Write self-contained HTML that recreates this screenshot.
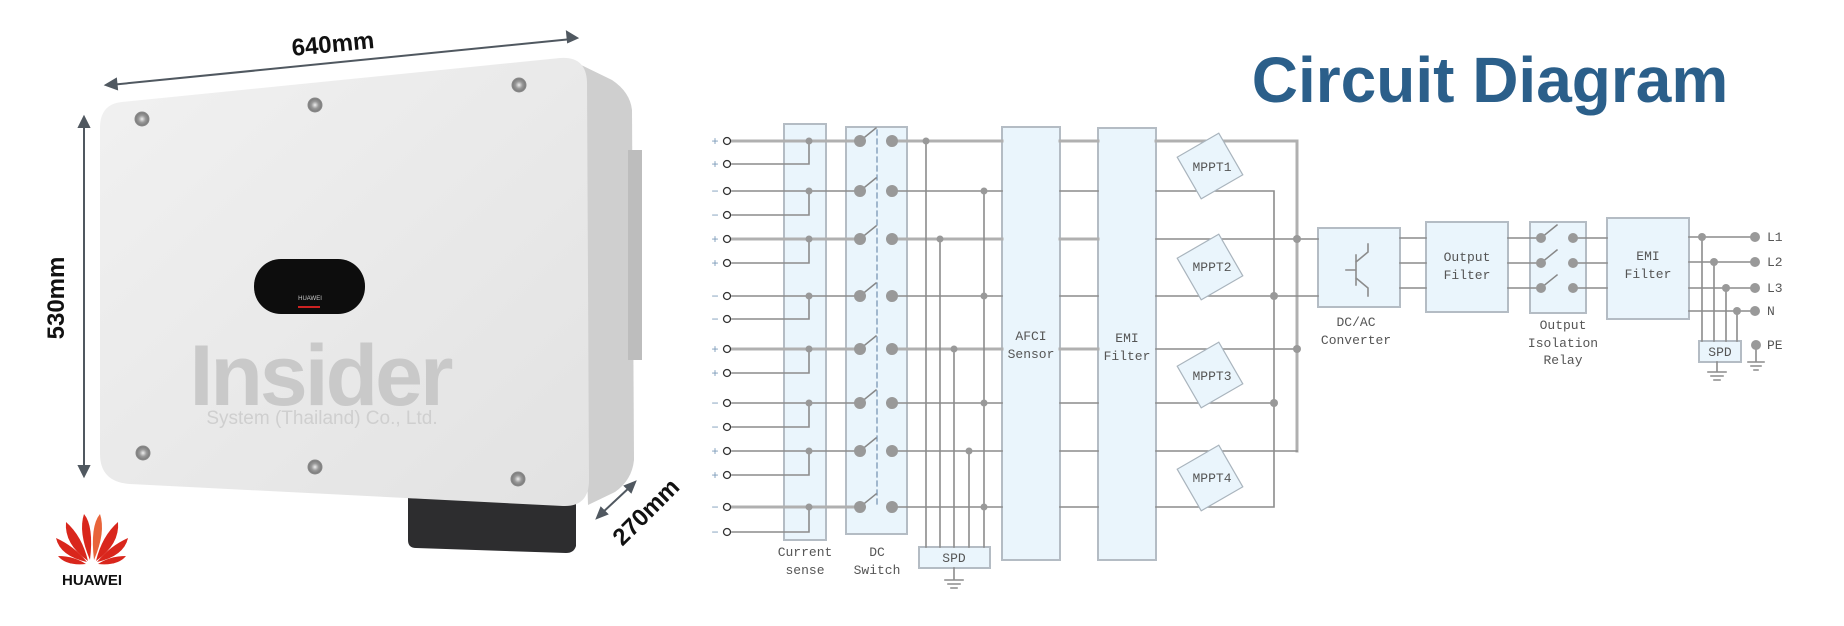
<!DOCTYPE html>
<html><head><meta charset="utf-8"><style>
html,body{margin:0;padding:0;background:#fff;}
svg{display:block;}
.m{font-family:"Liberation Mono",monospace;font-size:13px;fill:#555;}
</style></head><body>
<svg width="1844" height="626" viewBox="0 0 1844 626" xmlns="http://www.w3.org/2000/svg">
<defs>
<linearGradient id="pg" x1="0" y1="0" x2="1" y2="1"><stop offset="0" stop-color="#f1f1f1"/><stop offset="1" stop-color="#e2e2e2"/></linearGradient>
<radialGradient id="sc"><stop offset="0" stop-color="#eee"/><stop offset=".5" stop-color="#999"/><stop offset="1" stop-color="#777"/></radialGradient>
</defs>
<!-- product -->
<path d="M575 62 L612 80 Q630 92 632 110 L634 460 Q632 480 615 492 L588 505 Z" fill="#cfcfcf"/>
<rect x="628" y="150" width="14" height="210" fill="#bdbdbd"/>
<path d="M408 498 L576 504 L576 546 Q574 553 566 553 L416 548 Q408 548 408 540 Z" fill="#2d2d2f"/>
<path d="M122 102 L560 58 Q586 56 587 82 L589 480 Q589 507 563 506 L130 484 Q100 482 100 454 L100 128 Q100 104 122 102 Z" fill="url(#pg)"/>
<g fill="url(#sc)" stroke="#8a8a8a" stroke-width="1">
<circle cx="142" cy="119" r="7"/><circle cx="315" cy="105" r="7"/><circle cx="519" cy="85" r="7"/>
<circle cx="143" cy="453" r="7"/><circle cx="315" cy="467" r="7"/><circle cx="518" cy="479" r="7"/>
</g>
<rect x="254" y="259" width="111" height="55" rx="27" fill="#0d0d0d"/>
<rect x="298" y="306" width="22" height="2" fill="#c22"/>
<text x="310" y="300" font-family="Liberation Sans,sans-serif" font-size="6" fill="#ccc" text-anchor="middle">HUAWEI</text>
<text x="320" y="405" font-family="Liberation Sans,sans-serif" font-weight="bold" font-size="86" fill="#c9c9c9" text-anchor="middle" letter-spacing="-3">Insider</text>
<text x="322" y="424" font-family="Liberation Sans,sans-serif" font-size="19" fill="#cfcfcf" text-anchor="middle">System (Thailand) Co., Ltd.</text>
<!-- dimension arrows -->
<g stroke="#505860" stroke-width="2" fill="#505860">
<line x1="110" y1="85" x2="572" y2="39"/>
<path d="M106 85 l10 -6 l1 10 z"/><path d="M577 38 l-10 -6 l1 10 z"/>
<line x1="84" y1="122" x2="84" y2="470"/>
<path d="M84 117 l-5 10 h10 z"/><path d="M84 476 l-5 -10 h10 z"/>
<line x1="601" y1="514" x2="631" y2="486"/>
<path d="M597 518 l4 -10 l6 6 z"/><path d="M635 482 l-10 4 l6 6 z"/>
</g>
<text x="333" y="52" font-family="Liberation Sans,sans-serif" font-weight="bold" font-size="24" fill="#111" text-anchor="middle" transform="rotate(-5.5 333 45)">640mm</text>
<text x="72" y="306" font-family="Liberation Sans,sans-serif" font-weight="bold" font-size="24" fill="#111" text-anchor="middle" transform="rotate(-90 64 306)">530mm</text>
<text x="646" y="520" font-family="Liberation Sans,sans-serif" font-weight="bold" font-size="24" fill="#111" text-anchor="middle" transform="rotate(-45 646 512)">270mm</text>
<!-- huawei logo -->
<g fill="#d9261c" transform="translate(92,562)">
<path d="M-2 -2 Q-14 -30 -8 -48 Q2 -36 -2 -2Z"/><path d="M2 -2 Q14 -30 8 -48 Q-2 -36 2 -2Z" fill="#e8643a"/>
<path d="M-4 -1 Q-28 -18 -26 -40 Q-10 -26 -4 -1Z"/><path d="M4 -1 Q28 -18 26 -40 Q10 -26 4 -1Z"/>
<path d="M-5 0 Q-32 -6 -36 -24 Q-18 -16 -5 0Z"/><path d="M5 0 Q32 -6 36 -24 Q18 -16 5 0Z"/>
<path d="M-6 2 Q-26 4 -34 -6 Q-18 -6 -6 2Z"/><path d="M6 2 Q26 4 34 -6 Q18 -6 6 2Z"/>
</g>
<text x="92" y="585" font-family="Liberation Sans,sans-serif" font-weight="bold" font-size="15" fill="#111" text-anchor="middle">HUAWEI</text>
<!-- title -->
<text x="1490" y="102" font-family="Liberation Sans,sans-serif" font-weight="bold" font-size="64" fill="#2b5f8a" text-anchor="middle">Circuit Diagram</text>

<!-- circuit -->
<g fill="#eaf5fc" stroke="#b4bcc4" stroke-width="2">
<rect x="784" y="124" width="42" height="416"/>
<rect x="846" y="127" width="61" height="407"/>
<rect x="1002" y="127" width="58" height="433"/>
<rect x="1098" y="128" width="58" height="432"/>
<rect x="919" y="547" width="71" height="21"/>
<rect x="1318" y="228" width="82" height="79"/>
<rect x="1426" y="222" width="82" height="90"/>
<rect x="1530" y="222" width="56" height="91"/>
<rect x="1607" y="218" width="82" height="101"/>
<rect x="1699" y="341" width="42" height="21"/>
</g>
<g id="wires" fill="none" stroke-linecap="square">
<!-- thick odd rows terminal->switch -->
<g stroke="#b0b0b0" stroke-width="3">
<path d="M732 141H860M732 239H860M732 349H860M732 507H860M892 141H1002M892 239H1002M892 349H1002"/>
<path d="M1060 141H1098M1060 239H1098M1060 349H1098M1156 141H1297V451"/>
</g>
<g stroke="#8c8c8c" stroke-width="1.6">
<path d="M732 191H860M732 296H860M732 403H860M732 451H860"/>
<path d="M732 164H809V141M732 215H809V191M732 263H809V239M732 319H809V296M732 373H809V349M732 427H809V403M732 475H809V451M732 532H809V507"/>
<path d="M892 191H1002M892 296H1002M892 403H1002M892 451H1002M892 507H1002"/>
<path d="M1060 191H1098M1060 296H1098M1060 403H1098M1060 451H1098M1060 507H1098"/>
<path d="M926 141V547M940 239V547M954 349V547M969 451V547M984 191V547"/>
<path d="M1156 191H1274V507H1156M1156 239H1318M1156 296H1318M1156 349H1297M1156 403H1274M1156 451H1297"/>
<path d="M1400 238H1426M1400 263H1426M1400 288H1426M1508 238H1541M1508 263H1541M1508 288H1541M1573 238H1607M1573 263H1607M1573 288H1607"/>
<path d="M1689 237H1755M1689 262H1755M1689 288H1755M1689 311H1755"/>
<path d="M1702 237V341M1714 262V341M1726 288V341M1737 311V341"/>
<path d="M954 568V580M945 580H963M948 584H960M951 588H957"/>
<path d="M1717 362V372M1708 372H1726M1711 376H1723M1714 380H1720"/>
<path d="M1756 345V362M1748 362H1764M1751 366H1761M1754 370H1758"/>
<path d="M1356 255V285M1346 270H1356M1356 262L1368 252V244M1356 278L1368 288V296"/>
</g>
<path d="M877 130V505" stroke="#7a96b4" stroke-width="1.3" stroke-dasharray="5 4"/>
<g stroke="#888" stroke-width="1.5">
<path d="M860 141l16-13M860 191l16-13M860 239l16-13M860 296l16-13M860 349l16-13M860 403l16-13M860 451l16-13M860 507l16-13"/>
<path d="M1541 238l16-13M1541 263l16-13M1541 288l16-13"/>
</g>
</g>
<g fill="#999">
<circle cx="860" cy="141" r="6"/><circle cx="892" cy="141" r="6"/><circle cx="860" cy="191" r="6"/><circle cx="892" cy="191" r="6"/>
<circle cx="860" cy="239" r="6"/><circle cx="892" cy="239" r="6"/><circle cx="860" cy="296" r="6"/><circle cx="892" cy="296" r="6"/>
<circle cx="860" cy="349" r="6"/><circle cx="892" cy="349" r="6"/><circle cx="860" cy="403" r="6"/><circle cx="892" cy="403" r="6"/>
<circle cx="860" cy="451" r="6"/><circle cx="892" cy="451" r="6"/><circle cx="860" cy="507" r="6"/><circle cx="892" cy="507" r="6"/>
<circle cx="809" cy="141" r="3.5"/><circle cx="809" cy="191" r="3.5"/><circle cx="809" cy="239" r="3.5"/><circle cx="809" cy="296" r="3.5"/>
<circle cx="809" cy="349" r="3.5"/><circle cx="809" cy="403" r="3.5"/><circle cx="809" cy="451" r="3.5"/><circle cx="809" cy="507" r="3.5"/>
<circle cx="926" cy="141" r="3.5"/><circle cx="940" cy="239" r="3.5"/><circle cx="954" cy="349" r="3.5"/><circle cx="969" cy="451" r="3.5"/>
<circle cx="984" cy="191" r="3.5"/><circle cx="984" cy="296" r="3.5"/><circle cx="984" cy="403" r="3.5"/><circle cx="984" cy="507" r="3.5"/>
<circle cx="1297" cy="239" r="4"/><circle cx="1297" cy="349" r="4"/><circle cx="1274" cy="296" r="4"/><circle cx="1274" cy="403" r="4"/>
<circle cx="1541" cy="238" r="5"/><circle cx="1573" cy="238" r="5"/><circle cx="1541" cy="263" r="5"/><circle cx="1573" cy="263" r="5"/><circle cx="1541" cy="288" r="5"/><circle cx="1573" cy="288" r="5"/>
<circle cx="1702" cy="237" r="4"/><circle cx="1714" cy="262" r="4"/><circle cx="1726" cy="288" r="4"/><circle cx="1737" cy="311" r="4"/>
<circle cx="1755" cy="237" r="5"/><circle cx="1755" cy="262" r="5"/><circle cx="1755" cy="288" r="5"/><circle cx="1755" cy="311" r="5"/><circle cx="1756" cy="345" r="5"/>
</g>
<g fill="#fff" stroke="#333" stroke-width="1.3">
<circle cx="727" cy="141" r="3.5"/><circle cx="727" cy="164" r="3.5"/><circle cx="727" cy="191" r="3.5"/><circle cx="727" cy="215" r="3.5"/>
<circle cx="727" cy="239" r="3.5"/><circle cx="727" cy="263" r="3.5"/><circle cx="727" cy="296" r="3.5"/><circle cx="727" cy="319" r="3.5"/>
<circle cx="727" cy="349" r="3.5"/><circle cx="727" cy="373" r="3.5"/><circle cx="727" cy="403" r="3.5"/><circle cx="727" cy="427" r="3.5"/>
<circle cx="727" cy="451" r="3.5"/><circle cx="727" cy="475" r="3.5"/><circle cx="727" cy="507" r="3.5"/><circle cx="727" cy="532" r="3.5"/>
</g>
<g font-family="Liberation Sans,sans-serif" font-size="12" fill="#7a9ab8" text-anchor="middle">
<text x="715" y="145">+</text><text x="715" y="168">+</text><text x="715" y="195">−</text><text x="715" y="219">−</text>
<text x="715" y="243">+</text><text x="715" y="267">+</text><text x="715" y="300">−</text><text x="715" y="323">−</text>
<text x="715" y="353">+</text><text x="715" y="377">+</text><text x="715" y="407">−</text><text x="715" y="431">−</text>
<text x="715" y="455">+</text><text x="715" y="479">+</text><text x="715" y="511">−</text><text x="715" y="536">−</text>
</g>
<!-- MPPT diamonds -->
<g fill="#eaf5fc" stroke="#a9b4bd" stroke-width="1.2">
<rect x="-24" y="-24" width="48" height="48" transform="translate(1210,166) rotate(-30)"/>
<rect x="-24" y="-24" width="48" height="48" transform="translate(1210,267) rotate(-30)"/>
<rect x="-24" y="-24" width="48" height="48" transform="translate(1210,375) rotate(-30)"/>
<rect x="-24" y="-24" width="48" height="48" transform="translate(1210,478) rotate(-30)"/>
</g>
<g class="m" text-anchor="middle" font-size="12">
<text x="1212" y="171" class="m">MPPT1</text><text x="1212" y="271" class="m">MPPT2</text>
<text x="1212" y="380" class="m">MPPT3</text><text x="1212" y="482" class="m">MPPT4</text>
<text x="805" y="556" class="m">Current</text><text x="805" y="574" class="m">sense</text>
<text x="877" y="556" class="m">DC</text><text x="877" y="574" class="m">Switch</text>
<text x="954" y="562" class="m">SPD</text>
<text x="1031" y="340" class="m">AFCI</text><text x="1031" y="358" class="m">Sensor</text>
<text x="1127" y="342" class="m">EMI</text><text x="1127" y="360" class="m">Filter</text>
<text x="1356" y="326" class="m">DC/AC</text><text x="1356" y="344" class="m">Converter</text>
<text x="1467" y="261" class="m">Output</text><text x="1467" y="279" class="m">Filter</text>
<text x="1563" y="329" class="m">Output</text><text x="1563" y="347" class="m">Isolation</text><text x="1563" y="364" class="m">Relay</text>
<text x="1648" y="260" class="m">EMI</text><text x="1648" y="278" class="m">Filter</text>
<text x="1720" y="356" class="m">SPD</text>
</g>
<g class="m" font-size="12">
<text x="1767" y="241" class="m">L1</text><text x="1767" y="266" class="m">L2</text><text x="1767" y="292" class="m">L3</text>
<text x="1767" y="315" class="m">N</text><text x="1767" y="349" class="m">PE</text>
</g>
</svg>
</body></html>
